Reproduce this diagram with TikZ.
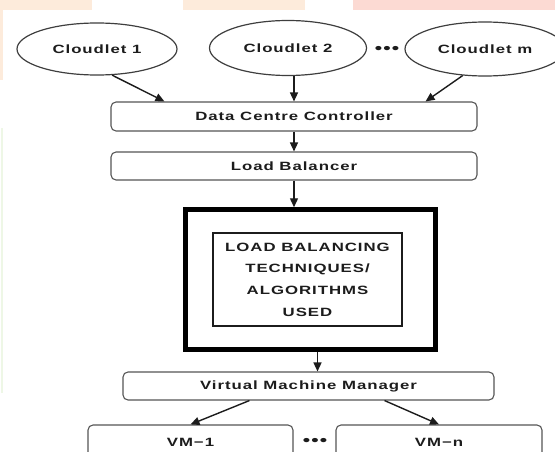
\documentclass[tikz,border=0pt]{standalone}
\usepackage{fontspec}
\newfontfamily\diagfont{Liberation Sans Bold}[FakeStretch=1.4, LetterSpace=8]
\usepackage{tikz}
\usetikzlibrary{
  arrows.meta,
  shapes.geometric
}
\definecolor{peach}{HTML}{FDEBDB}
\definecolor{blush}{HTML}{FCDAD3}
\definecolor{mint}{HTML}{EEF7E6}
\definecolor{ink}{HTML}{1C1C1C}

\begin{document}
\begin{tikzpicture}[
  x=1pt, y=-1pt,
  every node/.style={font=\diagfont\fontsize{12}{14}\selectfont, text=ink},
  cloudlet/.style={ellipse, draw=ink!85, line width=1.2pt, inner sep=0pt},
  stage/.style={rectangle, rounded corners=5pt, draw=ink!75, line width=1.1pt,
    minimum width=366pt, minimum height=28pt},
  more/.style={font=\diagfont\fontsize{15}{15}\selectfont, inner sep=0pt},
  flow/.style={-{Triangle[length=9pt,width=8pt]}, line width=1.4pt, draw=ink},
  ]
\useasboundingbox (0,0) rectangle (555,452);
\clip (0,0) rectangle (555,452);

% faint strips of the scan
\fill[peach] (0,0) rectangle (92,10);
\fill[peach] (183,0) rectangle (305,10);
\fill[blush] (353,0) rectangle (555,10);
\fill[peach] (0,10) rectangle (3,80);
\fill[mint] (1,128) rectangle (3,393);

% cloudlets
\node[cloudlet, minimum width=160pt, minimum height=52pt] (cl1) at (97,49) {Cloudlet 1};
\node[cloudlet, minimum width=157pt, minimum height=55pt] (cl2) at (288,48) {Cloudlet 2};
\node[more] (dots1) at (387,50) {•••};
\node[cloudlet, minimum width=160pt, minimum height=54pt] (clm) at (485,49) {Cloudlet m};

% controller chain
\node[stage, minimum height=29pt] (dcc) at (294,116.5) {Data Centre Controller};
\node[stage] (lb) at (294,166) {Load Balancer};
\node[draw=black, line width=4.5pt, minimum width=250pt, minimum height=140pt] (algo) at (310.5,279.5) {};
\node[draw=ink, line width=1.8pt, minimum width=189pt, minimum height=93pt, align=center,
  font=\diagfont\fontsize{12}{21.7}\selectfont] (tech) at (307.5,279.5)
  {LOAD BALANCING\\TECHNIQUES/\\ALGORITHMS\\USED};
\node[stage, minimum width=371pt] (vmm) at (308.5,386) {Virtual Machine Manager};

% virtual machines
\node[stage, minimum width=205pt, minimum height=34pt] (vm1) at (190.5,442) {VM−1};
\node[more] (dots2) at (315,442) {•••};
\node[stage, minimum width=206pt, minimum height=34pt] (vmn) at (439,442) {VM−n};

\draw[flow] (cl1.-60) -- ([xshift=54pt]dcc.north west);
\draw[flow] (cl2.south -| dcc.north) -- (dcc.north);
\draw[flow] (clm.-130) -- ([xshift=-52pt]dcc.north east);
\draw[flow] (dcc) -- (lb);
\draw[flow] (lb.south) -- (lb.south |- algo.north);
\draw[flow] ([xshift=7pt]algo.south) -- ([xshift=7pt]algo.south |- vmm.north);
\draw[flow] ([xshift=127pt]vmm.south west) -- (vm1.north);
\draw[flow] ([xshift=-110pt]vmm.south east) -- (vmn.north);
\end{tikzpicture}
\end{document}
